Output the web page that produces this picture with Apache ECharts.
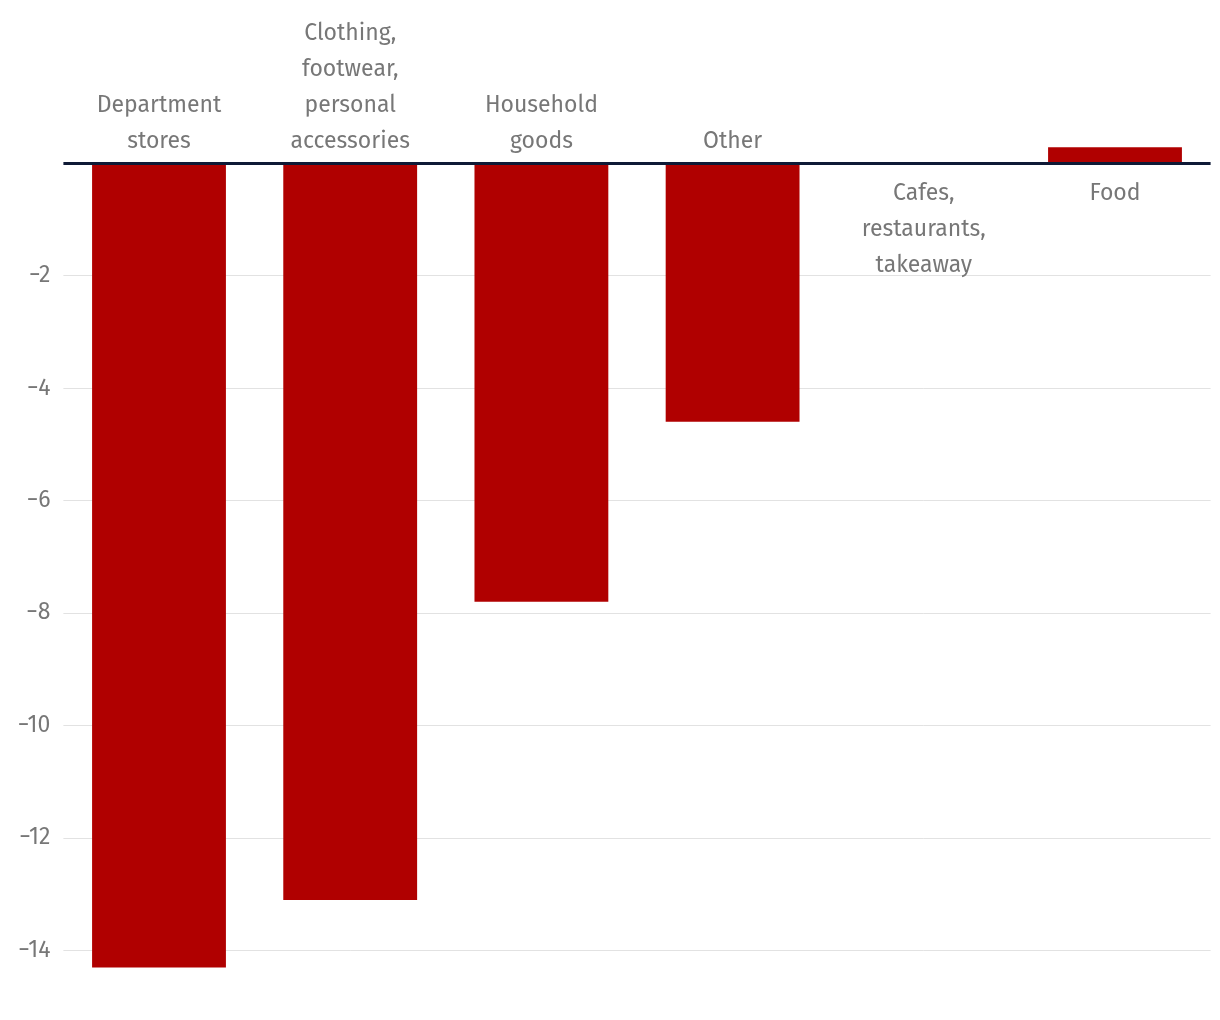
<!DOCTYPE html>
<html>
<head>
<meta charset="utf-8">
<script src="https://cdn.jsdelivr.net/npm/echarts@6/dist/echarts.min.js"></script>
<style>
html,body{margin:0;padding:0;background:#fff;}
#c{width:1220px;height:1020px;}
</style>
</head>
<body>
<div id="c"></div>
<script>
var categories = ["Department\nstores", "Clothing,\nfootwear,\npersonal\naccessories", "Household\ngoods", "Other", "Cafes,\nrestaurants,\ntakeaway", "Food"];
var values = [-14.3, -13.1, -7.8, -4.6, 0, 0.28];
var tickValues = [-14, -12, -10, -8, -6, -4, -2];

var FONT = '"Fira Sans", "Noto Sans", sans-serif';
var chart = echarts.init(document.getElementById('c'), null, {renderer: 'canvas'});

var barData = values.map(function (v) {
  return {
    value: v,
    label: {
      position: v < 0 ? 'top' : 'bottom',
      distance: v < 0 ? 4 : 12
    }
  };
});

chart.setOption({
  animation: false,
  backgroundColor: '#ffffff',
  grid: {left: 63.4, right: 9.4, top: 135, bottom: 52.6},
  xAxis: {
    type: 'category',
    data: categories,
    axisLine: {show: false},
    axisTick: {show: false},
    axisLabel: {show: false},
    splitLine: {show: false}
  },
  yAxis: {
    type: 'value',
    min: -14.3,
    max: 0.5,
    axisLine: {show: false},
    axisTick: {show: false},
    splitLine: {show: false},
    axisLabel: {
      customValues: tickValues,
      color: '#777777',
      fontFamily: FONT,
      fontSize: 23,
      margin: 13,
      formatter: function (v) { return String(v).replace('-', '\u2212'); }
    }
  },
  series: [
    {
      type: 'line',
      data: [],
      z: 0,
      silent: true,
      markLine: {
        z: 0,
        silent: true,
        symbol: 'none',
        label: {show: false},
        lineStyle: {color: '#e2e2e2', width: 1, type: 'solid'},
        data: tickValues.map(function (t) { return {yAxis: t}; })
      }
    },
    {
      type: 'bar',
      data: barData,
      z: 3,
      barWidth: '70%',
      itemStyle: {color: '#b00000'},
      label: {
        show: true,
        formatter: function (p) { return p.name; },
        color: '#777777',
        fontFamily: FONT,
        fontSize: 23,
        lineHeight: 36,
        align: 'center'
      }
    },
    {
      type: 'line',
      data: [],
      z: 10,
      silent: true,
      markLine: {
        z: 10,
        silent: true,
        symbol: 'none',
        label: {show: false},
        lineStyle: {color: '#0f1a36', width: 3, type: 'solid'},
        data: [{yAxis: 0}]
      }
    }
  ]
});
</script>
</body>
</html>
